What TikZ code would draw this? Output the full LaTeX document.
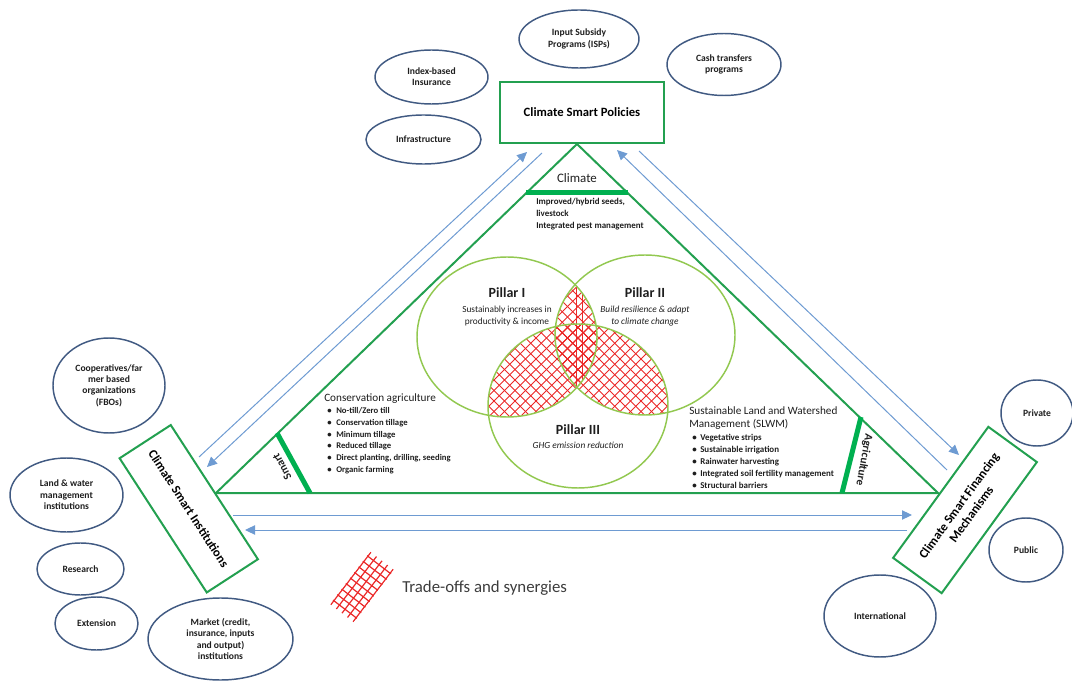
\documentclass[tikz,border=0pt]{standalone}
\usepackage{fontspec}
\setmainfont{Carlito}
\usetikzlibrary{shapes.geometric,arrows.meta}
\definecolor{boxgreen}{RGB}{35,160,80}
\definecolor{bargreen}{RGB}{0,176,80}
\definecolor{venngreen}{RGB}{146,200,80}
\definecolor{ellblue}{RGB}{65,90,130}
\definecolor{arrblue}{RGB}{110,155,210}
\definecolor{hatchred}{RGB}{235,40,40}
\definecolor{txt}{RGB}{30,30,30}
\definecolor{legtxt}{RGB}{60,60,60}
\newcommand\hatchlines{%
  \foreach \k in {-26,...,26}{%
    \draw[hatch] ({378+\k*10.5},180) -- ++(400,400);
    \draw[hatch] ({378+\k*10.5},580) -- ++(400,-400);
  }}
\begin{document}
\begin{tikzpicture}[x=0.75pt,y=-0.75pt,
  ell/.style={draw=ellblue, line width=1.1pt, ellipse, inner sep=0pt, align=center,
    font=\fontsize{7.2}{8.5}\selectfont\bfseries, text=txt},
  box/.style={draw=boxgreen, line width=1.5pt, rectangle, inner sep=0pt, align=center,
    font=\fontsize{9.5}{11.5}\selectfont\bfseries, fill=white, text=black},
  arr/.style={draw=arrblue, line width=0.75pt},
  arrh/.style={arr, -{Triangle[length=7.5pt,width=7pt]}},
  tri/.style={draw=boxgreen, line width=1.5pt},
  bar/.style={draw=bargreen, line width=3.75pt},
  venn/.style={draw=venngreen, line width=1.1pt},
  hatch/.style={draw=hatchred, line width=0.75pt},
  lbl/.style={inner sep=0pt, text=txt},
]
\useasboundingbox (0,0) rectangle (1072,684);

% ---- triangle
\coordinate (T) at (577,144);
\coordinate (L) at (216,493);
\coordinate (R) at (938,493);
\draw[tri, line join=miter] (T) -- (L) -- (R) -- cycle;
\coordinate (cb1) at (526,193); \coordinate (cb2) at (628,193);
\coordinate (sb1) at (277,433); \coordinate (sb2) at (310,493);
\coordinate (ab1) at (861,417); \coordinate (ab2) at (842,493);
\draw[bar] (cb1) -- (cb2);
\draw[bar] (sb1) -- (sb2);
\draw[bar] (ab1) -- (ab2);

% ---- hatch (trade-offs)
\begin{scope}
  \clip (507,337) ellipse [x radius=90, y radius=80];
  \clip (645,335) ellipse [x radius=90, y radius=80];
  \hatchlines
  \draw[hatch] (576,250) -- (576,450);
  \draw[hatch] (582,250) -- (582,450);
\end{scope}
\begin{scope}
  \clip (507,337) ellipse [x radius=90, y radius=80];
  \clip (578,406) ellipse [x radius=90, y radius=82];
  \hatchlines
\end{scope}
\begin{scope}
  \clip (645,335) ellipse [x radius=90, y radius=80];
  \clip (578,406) ellipse [x radius=90, y radius=82];
  \hatchlines
\end{scope}

% ---- venn
\draw[venn] (507,337) ellipse [x radius=90, y radius=80];
\draw[venn] (645,335) ellipse [x radius=90, y radius=80];
\draw[venn] (578,406) ellipse [x radius=90, y radius=82];

\node[lbl, font=\fontsize{10.5}{12}\selectfont\bfseries] (p1) at (507,293) {Pillar I};
\node[lbl, align=center, font=\fontsize{7}{9}\selectfont] (p1t) at (507,316) {Sustainably increases in\\productivity \& income};
\node[lbl, font=\fontsize{10.5}{12}\selectfont\bfseries] (p2) at (645,293) {Pillar II};
\node[lbl, align=center, font=\fontsize{7}{9}\selectfont\itshape] (p2t) at (645,316) {Build resilience \& adapt\\to climate change};
\node[lbl, font=\fontsize{10.5}{12}\selectfont\bfseries] (p3) at (578,430) {Pillar III};
\node[lbl, font=\fontsize{7}{9}\selectfont\itshape] (p3t) at (578,445) {GHG emission reduction};

% ---- triangle texts
\node[lbl, font=\fontsize{9.7}{11}\selectfont] (clim) at (577,178) {Climate};
\node[lbl, anchor=north west, align=left, font=\fontsize{6.7}{9}\selectfont\bfseries] (impr) at (536,198)
  {Improved/hybrid seeds,\\livestock\\Integrated pest management};
\node[lbl, rotate=118, font=\fontsize{8.5}{10}\selectfont\bfseries] (smart) at (282,467) {Smart};
\node[lbl, rotate=-100, font=\fontsize{8.5}{10}\selectfont\bfseries] (agri) at (864,460) {Agriculture};

\node[lbl, anchor=base west, font=\fontsize{8.4}{10}\selectfont] (catitle) at (324,402) {Conservation agriculture};
\node[lbl, anchor=north west, align=left, font=\fontsize{6.5}{8.9}\selectfont\bfseries] (calist) at (327,407)
  {\makebox[6.75pt][l]{\textbullet}No-till/Zero till\\
   \makebox[6.75pt][l]{\textbullet}Conservation tillage\\
   \makebox[6.75pt][l]{\textbullet}Minimum tillage\\
   \makebox[6.75pt][l]{\textbullet}Reduced tillage\\
   \makebox[6.75pt][l]{\textbullet}Direct planting, drilling, seeding\\
   \makebox[6.75pt][l]{\textbullet}Organic farming};

\node[lbl, anchor=north west, align=left, font=\fontsize{8.4}{9.8}\selectfont] (sltitle) at (689,406)
  {Sustainable Land and Watershed\\Management (SLWM)};
\node[lbl, anchor=north west, align=left, font=\fontsize{6.7}{9}\selectfont\bfseries] (sllist) at (692,434)
  {\makebox[6pt][l]{\textbullet}Vegetative strips\\
   \makebox[6pt][l]{\textbullet}Sustainable irrigation\\
   \makebox[6pt][l]{\textbullet}Rainwater harvesting\\
   \makebox[6pt][l]{\textbullet}Integrated soil fertility management\\
   \makebox[6pt][l]{\textbullet}Structural barriers};

% ---- arrows
\coordinate (a1s) at (199,457); \coordinate (a1e) at (527,152);
\coordinate (a2s) at (542,153); \coordinate (a2e) at (207,467);
\coordinate (b1s) at (947,470); \coordinate (b1e) at (617,150);
\coordinate (b2s) at (639,151); \coordinate (b2e) at (959,455);
\coordinate (c1s) at (233,515); \coordinate (c1e) at (912,515);
\coordinate (c2s) at (907,530); \coordinate (c2e) at (245,530);
\draw[arrh] (a1s) -- (a1e);
\draw[arrh] (a2s) -- (a2e);
\draw[arrh] (b1s) -- (b1e);
\draw[arrh] (b2s) -- (b2e);
\draw[arrh] (c1s) -- (c1e);
\draw[arrh] (c2s) -- (c2e);

% ---- boxes
\node[box, minimum width=123pt, minimum height=45.75pt] (pol) at (582,112.5) {Climate Smart Policies};
\node[box, rotate=-57, minimum width=120pt, minimum height=45.75pt] (inst) at (188.75,508.75) {Climate Smart Institutions};
\node[box, rotate=54, minimum width=121.5pt, minimum height=45pt] (fin) at (965,510) {Climate Smart Financing\\Mechanisms};

% ---- ellipses
\node[ell, minimum width=90pt, minimum height=43.5pt] (isp) at (579,39) {Input Subsidy\\Programs (ISPs)};
\node[ell, minimum width=84.75pt, minimum height=40.5pt] (idx) at (431.5,77) {Index-based\\Insurance};
\node[ell, minimum width=85.5pt, minimum height=46.5pt] (cash) at (724,64.5) {Cash transfers\\programs};
\node[ell, minimum width=86.25pt, minimum height=36.75pt] (infra) at (423.5,139.5) {Infrastructure};
\node[ell, minimum width=84pt, minimum height=71.25pt] (coop) at (109,385.5) {Cooperatives/far\\mer based\\organizations\\(FBOs)};
\node[ell, minimum width=84.75pt, minimum height=55.5pt] (land) at (66.5,495) {Land \& water\\management\\institutions};
\node[ell, minimum width=65.25pt, minimum height=39pt] (res) at (80.5,569) {Research};
\node[ell, minimum width=62.25pt, minimum height=39.75pt] (ext) at (96.5,623.5) {Extension};
\node[ell, minimum width=108.75pt, minimum height=61.5pt] (mkt) at (220.5,639) {Market (credit,\\insurance, inputs\\and output)\\institutions};
\node[ell, minimum width=54pt, minimum height=49.5pt] (priv) at (1037,413) {Private};
\node[ell, minimum width=55.5pt, minimum height=48pt] (pub) at (1026,550) {Public};
\node[ell, minimum width=84pt, minimum height=61.5pt] (intl) at (880,616) {International};

% ---- legend
\begin{scope}[shift={(362,587)}, rotate=52.6]
  \clip (-34,-15) rectangle (34,15);
  \foreach \b in {-14,-7,0,7,14} { \draw[hatch, line width=0.9pt] (-33,\b) -- (33,\b); }
  \foreach \a in {-28,-21,...,28} { \draw[hatch, line width=0.9pt] (\a,-15) -- (\a,15); }
\end{scope}
\node[lbl, anchor=west, text=legtxt, font=\fontsize{12.6}{14}\selectfont] (leg) at (402,588) {Trade-offs and synergies};
\end{tikzpicture}
\end{document}
